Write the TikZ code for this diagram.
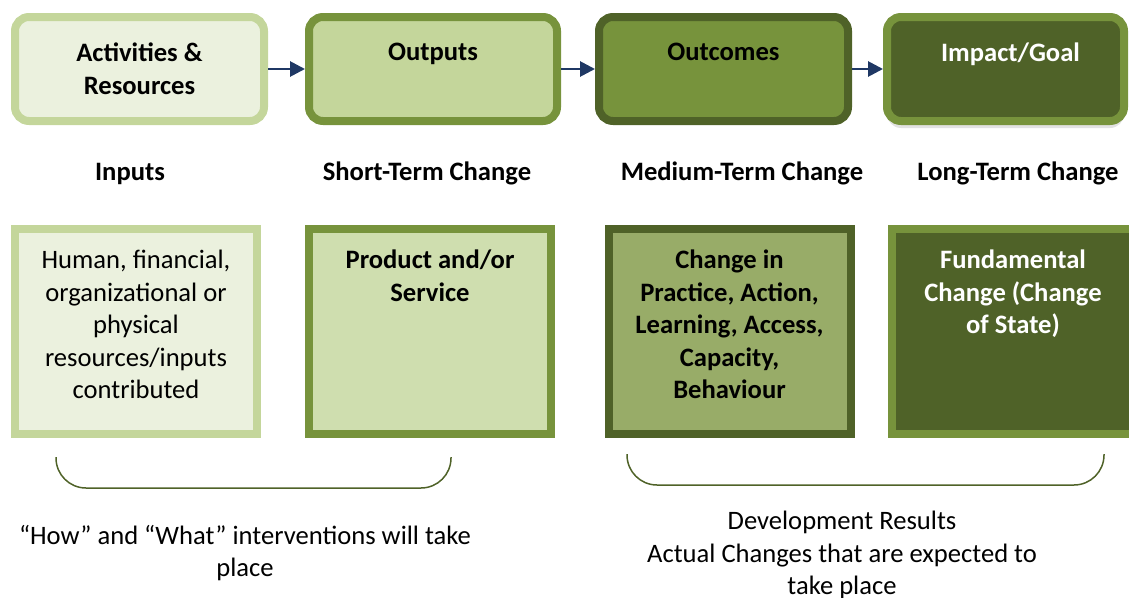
\documentclass[tikz,border=0pt]{standalone}
\usepackage{fontspec}
\setmainfont{Carlito}
\usetikzlibrary{positioning,arrows.meta,shadows}

\definecolor{palegreen}{HTML}{EBF1DE}
\definecolor{lightgreen}{HTML}{C4D69B}
\definecolor{sagegreen}{HTML}{CFDEAF}
\definecolor{mossgreen}{HTML}{98AC68}
\definecolor{olive}{HTML}{77933C}
\definecolor{darkolive}{HTML}{4F6228}
\definecolor{navy}{HTML}{1F3864}

\begin{document}
\begin{tikzpicture}[x=1pt,y=-1pt]
    \tikzset{
        topbox/.style={draw, line width=8pt, rounded corners=14pt,
            minimum width=249pt, minimum height=104pt, inner sep=0pt},
        lowbox/.style={draw, line width=8pt, minimum width=242pt,
            minimum height=205pt, inner sep=0pt},
        head/.style={font=\fontsize{26.6}{32.5}\selectfont\bfseries, align=center, inner sep=0pt},
        body/.style={font=\fontsize{26.6}{32.5}\selectfont, align=center, inner sep=0pt},
        flow/.style={draw=navy, line width=2.8pt, -{Triangle[length=15pt,width=15pt]}},
        brace/.style={draw=darkolive, line width=1.5pt, rounded corners=30pt},
    }
    \useasboundingbox (0,0) rectangle (1129,597);

    % top row
    \node[topbox, draw=lightgreen, fill=palegreen] (act) at (139.5,69) {};
    \node[topbox, draw=olive, fill=lightgreen, minimum width=248pt] (out) at (433,69) {};
    \node[topbox, draw=darkolive, fill=olive] (outc) at (723.5,69) {};
    \node[topbox, draw=olive, fill=darkolive, minimum width=237pt,
        drop shadow={shadow xshift=0pt, shadow yshift=-7pt, fill=gray!45}] (imp) at (1005.5,69) {};

    \node[head, below=30pt of act.north] (act-t) {Activities \&\\Resources};
    \node[head, below=30pt of out.north] (out-t) {Outputs};
    \node[head, below=30pt of outc.north] (outc-t) {Outcomes};
    \node[head, text=white, below=30pt of imp.north, xshift=5pt] (imp-t) {Impact/Goal};

    \draw[flow] (act) -- (out);
    \draw[flow] (out) -- (outc);
    \draw[flow] (outc) -- (imp);

    % time scale
    \node[head, anchor=base] (inp) at (130,180) {Inputs};
    \node[head, anchor=base] (short) at (427,180) {Short-Term Change};
    \node[head, anchor=base] (medium) at (742,180) {Medium-Term Change};
    \node[head, anchor=base] (long) at (1018,180) {Long-Term Change};

    % bottom row
    \node[lowbox, draw=lightgreen, fill=palegreen] (res) at (136,331.5) {};
    \node[lowbox, draw=olive, fill=sagegreen] (prod) at (430,331.5) {};
    \node[lowbox, draw=darkolive, fill=mossgreen] (prac) at (729.5,331.5) {};
    \node[lowbox, draw=olive, fill=darkolive] (state) at (1013,331.5) {};

    \node[body, below=25pt of res.north] (res-t)
        {Human, financial,\\organizational or\\physical\\resources/inputs\\contributed};
    \node[head, below=25pt of prod.north] (prod-t) {Product and/or\\Service};
    \node[head, below=25pt of prac.north] (prac-t)
        {Change in\\Practice, Action,\\Learning, Access,\\Capacity,\\Behaviour};
    \node[head, text=white, below=25pt of state.north] (state-t)
        {Fundamental\\Change (Change\\of State)};

    % brackets
    \draw[brace] (56,457) -- (56,488) -- (451,488) -- (451,457);
    \draw[brace] (627,454) -- (627,485) -- (1104,485) -- (1104,454);

    \node[body, anchor=north] (how) at (245,525)
        {“How” and “What” interventions will take\\place};
    \node[body, anchor=north] (dev) at (842,511)
        {Development Results\\Actual Changes that are expected to\\take place};
\end{tikzpicture}
\end{document}
